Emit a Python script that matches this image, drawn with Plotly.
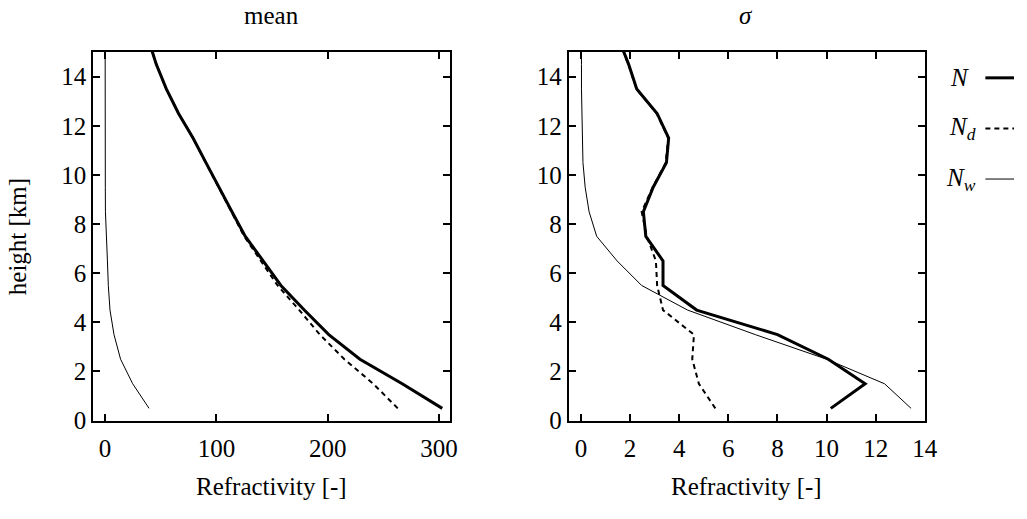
import plotly.graph_objects as go

# Heights of the layer midpoints [km]
height_km = [0.5, 1.5, 2.5, 3.5, 4.5, 5.5, 6.5, 7.5, 8.5, 9.5, 10.5, 11.5, 12.5, 13.5, 14.5, 15.5]

# Mean refractivity profiles
mean_N = [303, 267, 229, 201, 179, 158, 142, 126, 114, 102, 90.6, 79, 66, 55, 46, 39]
mean_Nd = [263, 241, 215, 193, 174.5, 155, 140, 125, 113.5, 101.7, 90.4, 79, 66, 55, 46, 39]
mean_Nw = [39.5, 24.8, 13.9, 8.0, 4.4, 2.9, 2.1, 0.9, 0.3, 0.2, 0.1, 0.1, 0.05, 0.05, 0.05, 0.05]

# Standard deviation of refractivity profiles
std_N = [10.17, 11.57, 10.07, 8.0, 4.71, 3.34, 3.34, 2.64, 2.54, 2.94, 3.48, 3.57, 3.10, 2.27, 1.94, 1.55]
std_Nd = [5.47, 4.8, 4.53, 4.6, 3.34, 3.1, 3.05, 2.68, 2.47, 2.92, 3.45, 3.55, 3.08, 2.26, 1.93, 1.54]
std_Nw = [13.44, 12.36, 10.0, 7.1, 4.34, 2.47, 1.47, 0.64, 0.33, 0.17, 0.08, 0.05, 0.03, 0.02, 0.02, 0.02]

mean_xticks = [0, 100, 200, 300]
std_xticks = [0, 2, 4, 6, 8, 10, 12, 14]
y_ticks = [0, 2, 4, 6, 8, 10, 12, 14]

W, H = 1027, 519
FONT = "Liberation Serif, Times New Roman, Times, DejaVu Serif, serif"
FS = 25

styles = {
    "N": dict(color="black", width=3),
    "Nd": dict(color="black", width=2, dash="5px,4px"),
    "Nw": dict(color="black", width=1),
}

fig = go.Figure()
for xs, key in [(mean_N, "N"), (mean_Nd, "Nd"), (mean_Nw, "Nw")]:
    fig.add_trace(go.Scatter(x=xs, y=height_km, mode="lines", line=styles[key],
                             xaxis="x", yaxis="y", showlegend=False))
for xs, key in [(std_N, "N"), (std_Nd, "Nd"), (std_Nw, "Nw")]:
    fig.add_trace(go.Scatter(x=xs, y=height_km, mode="lines", line=styles[key],
                             xaxis="x2", yaxis="y2", showlegend=False))

def px_x(p):
    return p / W

def px_y(p):
    return 1 - p / H

axis_common = dict(
    showline=True, linecolor="black", linewidth=2, mirror="ticks",
    ticks="inside", ticklen=7, tickwidth=1.5, tickcolor="black",
    showgrid=False, zeroline=False,
    tickfont=dict(family=FONT, size=FS, color="black"),
)

left_dom = [px_x(94.5), px_x(455.5)]
right_dom = [px_x(576), px_x(936.7)]
y_dom = [px_y(432.3), px_y(53.5)]

fig.update_layout(
    width=W, height=H,
    margin=dict(l=0, r=0, t=0, b=0),
    paper_bgcolor="white", plot_bgcolor="white",
    showlegend=False,
    font=dict(family=FONT, size=FS, color="black"),
    xaxis=dict(domain=left_dom, range=[-10.6, 309.7], tickvals=mean_xticks,
               anchor="y", ticklabelstandoff=4, **axis_common),
    yaxis=dict(domain=y_dom, range=[0, 15], tickvals=y_ticks, anchor="x", **axis_common),
    xaxis2=dict(domain=right_dom, range=[-0.5, 14], tickvals=std_xticks,
                anchor="y2", ticklabelstandoff=4, **axis_common),
    yaxis2=dict(domain=y_dom, range=[0, 15], tickvals=y_ticks, anchor="x2", **axis_common),
)

def label(text, x, y, angle=0, xanchor="center", size=FS):
    fig.add_annotation(text=text, x=px_x(x), y=px_y(y), xref="paper", yref="paper",
                       showarrow=False, xanchor=xanchor, yanchor="middle",
                       textangle=angle, font=dict(family=FONT, size=size, color="black"))

label("mean", 275, 16)
label("<i>σ</i>", 756, 16)
label("Refractivity [-]", 275, 500)
label("Refractivity [-]", 756, 500)
label("height [km]", 18, 243, angle=-90)

# Legend: label on the left, line sample on the right
legend_rows = [("<i>N</i>", 983, 80, "N"),
               ("<i>N</i><sub><i>d</i></sub>", 991, 132, "Nd"),
               ("<i>N</i><sub><i>w</i></sub>", 991, 184, "Nw")]
for text, xr, yc, key in legend_rows:
    label(text, xr, yc, xanchor="right")
    fig.add_shape(type="line", xref="paper", yref="paper",
                  x0=px_x(998), x1=px_x(1027), y0=px_y(yc), y1=px_y(yc),
                  line=styles[key])

fig.write_html("out.html")
